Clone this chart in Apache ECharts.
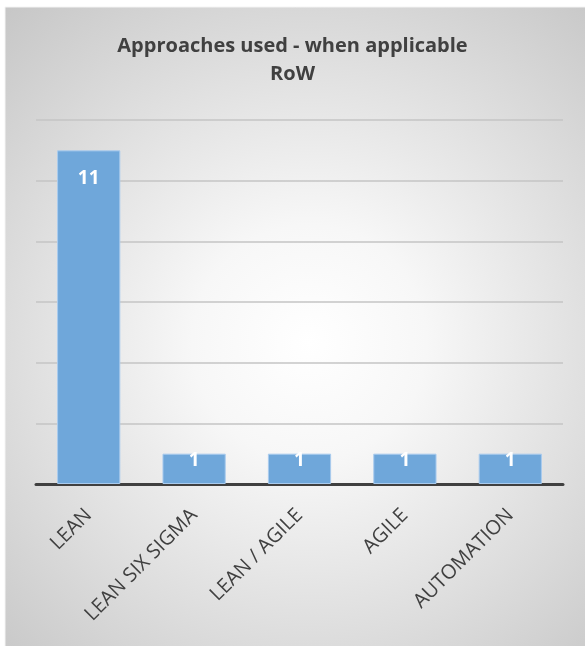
<!DOCTYPE html>
<html>
<head>
<meta charset="utf-8">
<script src="https://cdn.jsdelivr.net/npm/echarts@6/dist/echarts.min.js"></script>
<style>
  html, body { margin: 0; padding: 0; background: #ffffff; }
  #chart { width: 585px; height: 646px; }
</style>
</head>
<body>
<div id="chart"></div>
<script>
// Approaches used when applicable, Rest of World (count of respondents)
const categories = ['LEAN', 'LEAN SIX SIGMA', 'LEAN / AGILE', 'AGILE', 'AUTOMATION'];
const counts = [11, 1, 1, 1, 1];
const titleLines = ['Approaches used - when applicable', 'RoW'];

const chart = echarts.init(document.getElementById('chart'), null, { renderer: 'canvas' });

// Short bars keep their value label pinned to the bar's top edge
const barData = counts.map(v => ({
  value: v,
  label: v < 3 ? { distance: -3 } : { distance: 19 }
}));

chart.setOption({
  animation: false,
  backgroundColor: '#ffffff',
  graphic: [{
    type: 'rect',
    z: -10,
    silent: true,
    shape: { x: 5, y: 7, width: 585, height: 645 },
    style: {
      fill: {
        type: 'radial', x: 0.52, y: 0.52, r: 0.8,
        colorStops: [
          { offset: 0, color: '#ffffff' },
          { offset: 0.25, color: '#f7f7f7' },
          { offset: 1, color: '#c4c4c4' }
        ]
      },
      stroke: '#f4f4f4',
      lineWidth: 1
    }
  }],
  title: {
    text: titleLines.join('\n'),
    left: 'center',
    top: 27,
    textStyle: {
      fontFamily: 'Open Sans',
      fontWeight: 'bold',
      fontSize: 20,
      lineHeight: 28,
      color: '#404040'
    }
  },
  grid: { left: 36, right: 22, top: 120, bottom: 162, containLabel: false },
  xAxis: {
    type: 'category',
    data: categories,
    axisLine: { show: true, lineStyle: { color: '#404040', width: 3 } },
    axisTick: { show: false },
    axisLabel: {
      rotate: 45,
      interval: 0,
      margin: 28,
      fontFamily: 'Open Sans',
      fontSize: 20,
      color: '#404040'
    }
  },
  yAxis: {
    type: 'value',
    min: 0,
    max: 12,
    interval: 2,
    axisLine: { show: false },
    axisTick: { show: false },
    axisLabel: { show: false },
    splitLine: { lineStyle: { color: '#c4c4c4', width: 1.5 } }
  },
  series: [{
    type: 'bar',
    data: barData,
    barCategoryGap: '40%',
    itemStyle: {
      color: '#6fa7da',
      borderColor: '#a9cbee',
      borderWidth: 1
    },
    label: {
      show: true,
      position: 'insideTop',
      fontFamily: 'Open Sans',
      fontWeight: 'bold',
      fontSize: 19,
      color: '#ffffff'
    }
  }]
});
</script>
</body>
</html>
